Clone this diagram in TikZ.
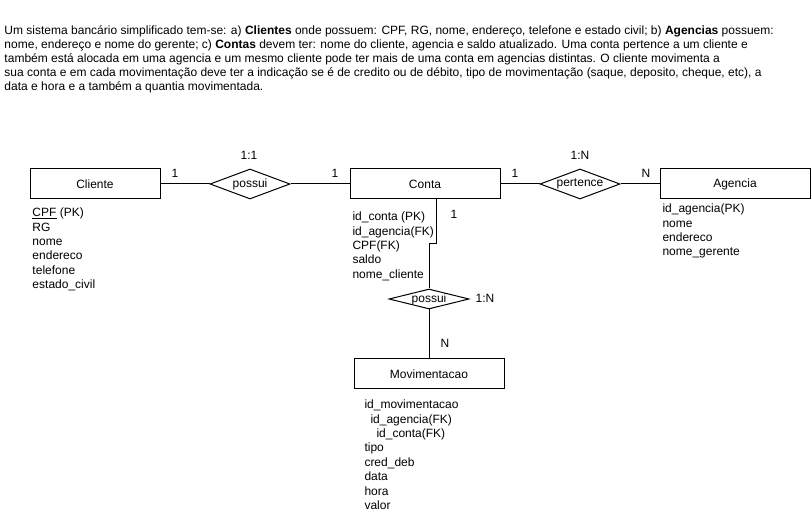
\documentclass[tikz,border=0pt]{standalone}
\usepackage{fontspec}
\setmainfont{Liberation Sans}
\usetikzlibrary{shapes.geometric}
\tikzset{
  ent/.style={draw, rectangle, minimum width=112.5pt, minimum height=22.5pt, inner sep=0pt},
  rel/.style={draw, diamond, inner sep=0pt, minimum width=60pt, minimum height=22.5pt},
  atr/.style={anchor=north west, align=left, inner sep=0pt},
  card/.style={inner sep=0pt}
}
\newcommand{\reltxt}[1]{\makebox[0pt]{#1}}

\begin{document}
\begin{tikzpicture}[x=0.75pt,y=-0.75pt,line width=0.75pt,font=\fontsize{9}{10.8}\selectfont]
	\useasboundingbox (0,0) rectangle (811,520);
	\fill[white] (0,0) rectangle (811,520);
	\node[atr, font=\fontsize{9}{10.5}\selectfont] (enunciado) at (4,25.5) {Um sistema bancário simplificado tem-se: a) \textbf{Clientes} onde possuem: CPF, RG, nome, endereço, telefone e estado civil; b) \textbf{Agencias} possuem:\\nome, endereço e nome do gerente; c) \textbf{Contas} devem ter: nome do cliente, agencia e saldo atualizado. Uma conta pertence a um cliente e\\também está alocada em uma agencia e um mesmo cliente pode ter mais de uma conta em agencias distintas. O cliente movimenta a\\sua conta e em cada movimentação deve ter a indicação se é de credito ou de débito, tipo de movimentação (saque, deposito, cheque, etc), a\\data e hora e a também a quantia movimentada.};
	\node[ent, minimum width=97.5pt] (cliente) at (95,184) {Cliente};
	\node[ent] (conta) at (425,184) {Conta};
	\node[ent] (agencia) at (735,184) {Agencia};
	\node[ent] (movim) at (429,374) {Movimentacao};
	\node[rel] (possui) at (250,184) {\reltxt{possui}};
	\node[rel] (pertence) at (580,184) {\reltxt{pertence}};
	\node[rel, minimum height=15pt] (possuimov) at (429,299) {\reltxt{possui}};
	\coordinate (dobra1) at (436,244);
	\coordinate (dobra2) at (429,244);
	\draw (cliente) -- (possui) -- (conta);
	\draw (conta) -- (pertence) -- (agencia);
	\draw (conta.south -| dobra1) -- (dobra1) -- (dobra2) -- (possuimov.north);
	\draw (possuimov) -- (movim);
	\node[card] (c1) at (175,173) {1};
	\node[card] (c2) at (249,155) {1:1};
	\node[card] (c3) at (335,173) {1};
	\node[card] (c4) at (515,173) {1};
	\node[card] (c5) at (580,155) {1:N};
	\node[card] (c6) at (646,173) {N};
	\node[card] (c7) at (454,214) {1};
	\node[card] (c8) at (485,298) {1:N};
	\node[card] (c9) at (445,343) {N};
	\node[atr] (clienteatr) at (32,207.5) {\underline{CPF} (PK)\\RG\\nome\\endereco\\telefone\\estado\_civil};
	\node[atr] (contaatr) at (352,211.5) {id\_conta (PK)\\id\_agencia(FK)\\CPF(FK)\\saldo\\nome\_cliente};
	\node[atr] (agenciaatr) at (662,203.5) {id\_agencia(PK)\\nome\\endereco\\nome\_gerente};
	\node[atr] (movimatr) at (364,399.5) {id\_movimentacao\\\hspace*{4.5pt}id\_agencia(FK)\\\hspace*{9pt}id\_conta(FK)\\tipo\\cred\_deb\\data\\hora\\valor};
\end{tikzpicture}
\end{document}
